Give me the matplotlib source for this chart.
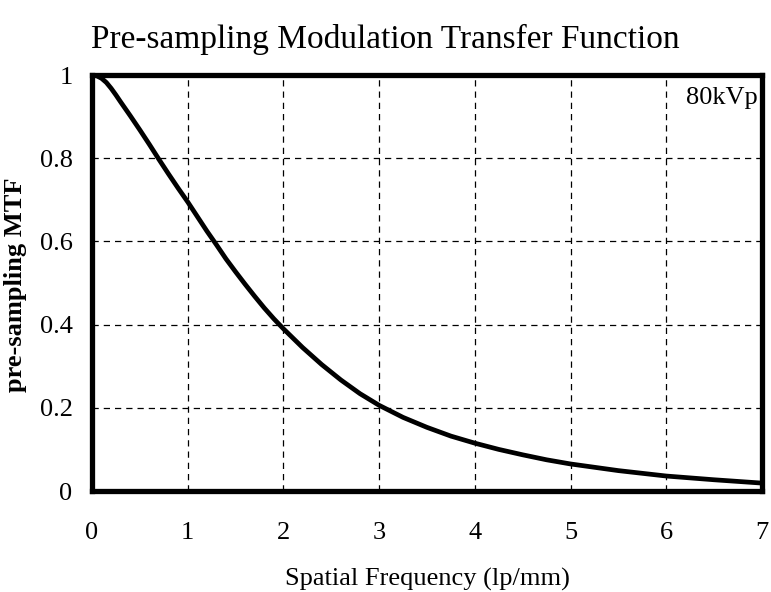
import matplotlib.pyplot as plt

plt.rcParams["font.family"] = ["Liberation Serif", "DejaVu Serif"]

# pre-sampling MTF measured at 80 kVp
freq = [0.0, 0.05, 0.1, 0.15, 0.2, 0.25, 0.3, 0.4, 0.5, 0.6, 0.7, 0.8, 0.9,
        1.0, 1.1, 1.2, 1.3, 1.4, 1.5, 1.6, 1.7, 1.8, 1.9, 2.0, 2.2, 2.4,
        2.6, 2.8, 3.0, 3.25, 3.5, 3.75, 4.0, 4.25, 4.5, 4.75, 5.0, 5.5,
        6.0, 6.5, 7.0]
mtf = [1.0, 0.998, 0.992, 0.982, 0.968, 0.952, 0.935, 0.902, 0.868, 0.833,
       0.797, 0.762, 0.728, 0.695, 0.660, 0.625, 0.592, 0.558, 0.527, 0.497,
       0.468, 0.440, 0.414, 0.390, 0.345, 0.304, 0.267, 0.234, 0.206, 0.177,
       0.153, 0.132, 0.115, 0.100, 0.087, 0.075, 0.065, 0.049, 0.036, 0.027,
       0.019]

x_ticks = [0, 1, 2, 3, 4, 5, 6, 7]
y_ticks = [0, 0.2, 0.4, 0.6, 0.8, 1]
y_tick_labels = ["0", "0.2", "0.4", "0.6", "0.8", "1"]


def plot_mtf():
    fig = plt.figure(figsize=(7.71, 5.92), dpi=100)
    ax = fig.add_axes([0.1193, 0.1706, 0.869, 0.7027])

    ax.plot(freq, mtf, color="black", linewidth=3.4, solid_joinstyle="round",
            solid_capstyle="butt", zorder=3)

    ax.set_xlim(0, 7)
    ax.set_ylim(0, 1)
    ax.set_xticks(x_ticks)
    ax.set_yticks(y_ticks)
    ax.set_yticklabels(y_tick_labels)
    ax.tick_params(axis="both", length=0, labelsize=19)
    ax.tick_params(axis="x", pad=22)
    ax.tick_params(axis="y", pad=14)

    ax.grid(True, color="black", linestyle=(0, (5, 4)), linewidth=0.9)
    for spine in ax.spines.values():
        spine.set_linewidth(3.8)
        spine.set_zorder(4)

    ax.text(0.993, 0.945, "80kVp", transform=ax.transAxes, ha="right", va="center",
            fontsize=19)

    ax.set_xlabel("Spatial Frequency (lp/mm)", fontsize=19)
    ax.xaxis.set_label_coords(0.5, -0.185)
    ax.set_ylabel("pre-sampling MTF", fontsize=19, fontweight="bold")
    ax.yaxis.set_label_coords(-0.097, 0.495)
    fig.text(0.5, 0.933, "Pre-sampling Modulation Transfer Function",
             fontsize=24, ha="center", va="center")

    fig.savefig("out.png", dpi=100)


if __name__ == "__main__":
    plot_mtf()
